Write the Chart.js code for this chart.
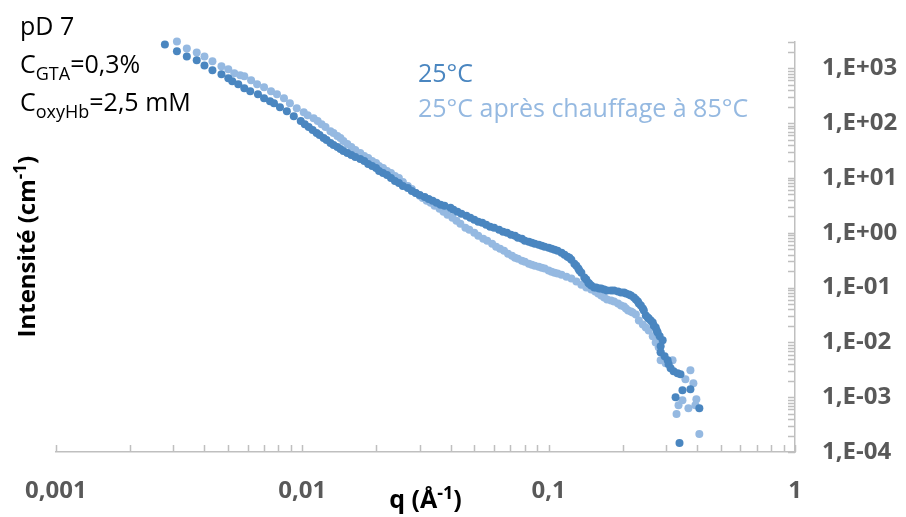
<!DOCTYPE html>
<html>
<head>
<meta charset="utf-8">
<script src="https://cdn.jsdelivr.net/npm/chart.js@4.4.1/dist/chart.umd.min.js"></script>
<style>
  html, body { margin: 0; padding: 0; background: #fff; }
  #wrap { position: relative; width: 906px; height: 517px; }
</style>
</head>
<body>
<div id="wrap"><canvas id="saxs"></canvas></div>
<script>
// ===== data =====
const seriesNames = ['25°C', '25°C après chauffage à 85°C'];

// 25°C  (q in 1/Å, intensity in 1/cm)
const qDark = [0.00277, 0.00310, 0.00340, 0.00373, 0.00401, 0.00432, 0.00470, 0.00501, 0.00520, 0.00550,
  0.00582, 0.00615, 0.00661, 0.00700, 0.00740, 0.00768, 0.00812, 0.00866, 0.00924, 0.00986,
  0.01062, 0.01144, 0.01221, 0.01302, 0.01389, 0.01469, 0.01582, 0.01720, 0.01852, 0.01994,
  0.02128, 0.02292, 0.02468, 0.02683, 0.02889, 0.03140, 0.03382, 0.03643, 0.03996, 0.04264,
  0.04635, 0.04992, 0.05377, 0.05790, 0.06293, 0.06778, 0.07299, 0.07788, 0.08309, 0.08785,
  0.09374, 0.1000, 0.1057, 0.1128, 0.1192, 0.1237, 0.1272, 0.1320, 0.1358, 0.1396,
  0.1449, 0.1489, 0.1531, 0.1604, 0.1680, 0.1793, 0.1913, 0.2022, 0.2118, 0.2219,
  0.2303, 0.2368, 0.2435, 0.2480, 0.2549, 0.2646, 0.2720, 0.2771, 0.2823, 0.2903,
  0.2849, 0.2849, 0.2957, 0.3041, 0.3069, 0.3127, 0.3215, 0.3336, 0.3429, 0.3493,
  0.3763, 0.3275, 0.4090, 0.3398,
  0.01024, 0.01102, 0.01176, 0.01255, 0.01339, 0.01429, 0.01524, 0.01642, 0.01785, 0.01922,
  0.02050, 0.02208, 0.02378, 0.02561, 0.02784, 0.02998, 0.03259, 0.03510, 0.03780, 0.04108,
  0.04425, 0.04810, 0.05180, 0.05579, 0.06008, 0.06531, 0.07033, 0.07504, 0.08006, 0.08543,
  0.09115, 0.09636, 0.1028, 0.1087, 0.1160, 0.1215, 0.1296, 0.1333, 0.1422, 0.1462,
  0.1560, 0.1634, 0.1727, 0.1843, 0.1967, 0.2060, 0.2158, 0.2260, 0.2324, 0.2412,
  0.2526, 0.2597, 0.2671, 0.2746];
const iDark = [2730, 2040, 1650, 1400, 1130, 920, 778, 658, 580, 512,
  433, 382, 337, 285, 251, 231, 195, 165, 134, 109,
  84.6, 65.8, 53.4, 43.3, 36.6, 31.0, 26.2, 22.2, 18.0, 15.2,
  12.3, 10.0, 8.11, 6.58, 5.34, 4.51, 3.82, 3.23, 2.85, 2.41,
  2.04, 1.72, 1.52, 1.29, 1.13, 1.00, 0.882, 0.778, 0.686, 0.631,
  0.580, 0.534, 0.491, 0.433, 0.366, 0.323, 0.273, 0.222, 0.187, 0.152,
  0.123, 0.109, 0.100, 0.0959, 0.0920, 0.0882, 0.0846, 0.0811, 0.0746, 0.0658,
  0.0557, 0.0471, 0.0382, 0.0310, 0.0273, 0.0231, 0.0187, 0.0152, 0.0129, 0.0109,
  0.00846, 0.00658, 0.00557, 0.00471, 0.00398, 0.00337, 0.00297, 0.00273, 0.00262, 0.00134,
  0.00140, 0.00100, 0.000631, 0.000146,
  95.9, 74.6, 60.5, 49.1, 39.8, 33.7, 28.5, 24.1, 20.4, 16.5,
  13.4, 11.3, 8.82, 7.15, 5.80, 4.91, 4.15, 3.51, 3.10, 2.62,
  2.22, 1.87, 1.58, 1.40, 1.23, 1.04, 0.920, 0.811, 0.715, 0.658,
  0.605, 0.557, 0.512, 0.471, 0.398, 0.351, 0.251, 0.204, 0.140, 0.118,
  0.100, 0.0959, 0.0882, 0.0882, 0.0811, 0.0778, 0.0715, 0.0605, 0.0512, 0.0415,
  0.0285, 0.0251, 0.0204, 0.0165];

// 25°C après chauffage à 85°C
const qLight = [0.00310, 0.00340, 0.00373, 0.00401, 0.00432, 0.00470, 0.00501, 0.00530, 0.00560, 0.00582,
  0.00620, 0.00656, 0.00700, 0.00747, 0.00790, 0.00843, 0.00891, 0.00950, 0.01014, 0.01112,
  0.01198, 0.01302, 0.01389, 0.01469, 0.01582, 0.01720, 0.01852, 0.01994, 0.02128, 0.02292,
  0.02468, 0.02683, 0.02889, 0.03083, 0.03320, 0.03609, 0.03886, 0.04225, 0.04593, 0.04992,
  0.05427, 0.05898, 0.06352, 0.06841, 0.07299, 0.07788, 0.08309, 0.08785, 0.09374, 0.1000,
  0.1057, 0.1128, 0.1237, 0.1358, 0.1489, 0.1589, 0.1680, 0.1793, 0.1913, 0.2022,
  0.2103, 0.2193, 0.2260, 0.2324, 0.2412, 0.2480, 0.2549, 0.2646, 0.2720, 0.2797,
  0.2849, 0.2849, 0.2985, 0.3185, 0.3305, 0.3367, 0.3493, 0.3591, 0.3693, 0.3763,
  0.3869, 0.3941, 0.3978, 0.4090,
  0.01052, 0.01155, 0.01243, 0.01339, 0.01429, 0.01524, 0.01642, 0.01785, 0.01922, 0.02050,
  0.02208, 0.02378, 0.02561, 0.02784, 0.02998, 0.03200, 0.03445, 0.03745, 0.04071, 0.04384,
  0.04766, 0.05180, 0.05631, 0.06121, 0.06592, 0.07099, 0.07504, 0.08006, 0.08543, 0.09115,
  0.09636, 0.1028, 0.1087, 0.1181, 0.1296, 0.1422, 0.1546, 0.1634, 0.1727, 0.1843,
  0.1967, 0.2060, 0.2158];
const iLight = [3100, 2310, 1950, 1650, 1340, 1090, 959, 811, 746, 715,
  605, 512, 451, 382, 337, 285, 231, 187, 158, 123,
  95.9, 71.5, 58.0, 47.1, 36.6, 28.5, 23.1, 18.7, 15.2, 12.3,
  10.0, 7.15, 5.34, 4.33, 3.51, 2.73, 2.12, 1.65, 1.23, 1.00,
  0.778, 0.631, 0.512, 0.415, 0.351, 0.310, 0.273, 0.251, 0.231, 0.204,
  0.187, 0.172, 0.146, 0.113, 0.0920, 0.0778, 0.0658, 0.0580, 0.0512, 0.0451,
  0.0382, 0.0351, 0.0323, 0.0251, 0.0212, 0.0187, 0.0165, 0.0129, 0.0100, 0.00811,
  0.00658, 0.00471, 0.00415, 0.00471, 0.000491, 0.000715, 0.000882, 0.00212, 0.000631, 0.00310,
  0.00180, 0.000715, 0.000920, 0.000212,
  140, 109, 84.6, 65.8, 53.4, 41.5, 32.3, 25.1, 20.4, 16.5,
  13.4, 10.9, 8.46, 6.31, 4.71, 3.82, 3.10, 2.41, 1.87, 1.46,
  1.13, 0.882, 0.715, 0.557, 0.471, 0.382, 0.337, 0.297, 0.262, 0.241,
  0.222, 0.195, 0.180, 0.158, 0.129, 0.100, 0.0846, 0.0715, 0.0605, 0.0557,
  0.0471, 0.0415, 0.0366];

const xTickValues = [0.001, 0.01, 0.1, 1];
const xTickLabels = ['0,001', '0,01', '0,1', '1'];
const yTickValues = [1e-4, 1e-3, 1e-2, 1e-1, 1, 1e1, 1e2, 1e3];
const yTickLabels = ['1,E-04', '1,E-03', '1,E-02', '1,E-01', '1,E+00', '1,E+01', '1,E+02', '1,E+03'];

// ===== styling =====
const darkBlue = '#4a86c0';
const lightBlue = '#95b9e1';
const axisGrey = '#bfbfbf';
const labelGrey = '#595959';
const FONT = '"Open Sans", "Liberation Sans", sans-serif';

const toPoints = (qs, is) => qs.map((q, k) => ({ x: q, y: is[k] }));

function findLabel(values, labels, v) {
  const k = values.findIndex(t => Math.abs(Math.log10(t) - Math.log10(v)) < 1e-6);
  return k < 0 ? '' : labels[k];
}
function isWholeMantissa(v) {
  const m = v / Math.pow(10, Math.floor(Math.log10(v) + 1e-9));
  return Math.abs(m - Math.round(m)) < 1e-6;
}

// draw text made of parts, some of them sub/superscript
function richText(ctx, parts, x, y, size, weight, align) {
  const small = Math.round(size * 0.72);
  const fontOf = p => `${weight} ${p.sub || p.sup ? small : size}px ${FONT}`;
  let w = 0;
  parts.forEach(p => { ctx.font = fontOf(p); w += ctx.measureText(p.t).width; });
  let cx = align === 'center' ? x - w / 2 : x;
  ctx.textAlign = 'left';
  ctx.textBaseline = 'alphabetic';
  parts.forEach(p => {
    ctx.font = fontOf(p);
    const dy = p.sub ? size * 0.26 : (p.sup ? -size * 0.36 : 0);
    ctx.fillText(p.t, cx, y + dy);
    cx += ctx.measureText(p.t).width;
  });
}

const decorations = {
  id: 'decorations',
  afterDraw(chart) {
    const { ctx, chartArea: a, scales: { x, y } } = chart;
    ctx.save();

    // tick marks pointing into the plot
    ctx.strokeStyle = axisGrey;
    ctx.lineWidth = 1.5;
    ctx.beginPath();
    x.ticks.forEach(t => {
      if (!isWholeMantissa(t.value)) return;
      const px = Math.round(x.getPixelForValue(t.value)) + 0.5;
      ctx.moveTo(px, a.bottom);
      ctx.lineTo(px, a.bottom - 7);
    });
    y.ticks.forEach(t => {
      if (!isWholeMantissa(t.value)) return;
      const py = Math.round(y.getPixelForValue(t.value)) + 0.5;
      ctx.moveTo(a.right, py);
      ctx.lineTo(a.right - 7, py);
    });
    ctx.stroke();

    // sample description
    ctx.fillStyle = '#000';
    richText(ctx, [{ t: 'pD 7' }], 20, 35, 25, 'normal', 'left');
    richText(ctx, [{ t: 'C' }, { t: 'GTA', sub: true }, { t: '=0,3%' }], 20, 73, 25, 'normal', 'left');
    richText(ctx, [{ t: 'C' }, { t: 'oxyHb', sub: true }, { t: '=2,5 mM' }], 20, 111, 25, 'normal', 'left');

    // legend text
    const ds = chart.data.datasets;
    ctx.fillStyle = ds[0].backgroundColor;
    richText(ctx, [{ t: ds[0].label }], 418, 82, 25, 'normal', 'left');
    ctx.fillStyle = ds[1].backgroundColor;
    richText(ctx, [{ t: ds[1].label }], 418, 117, 25, 'normal', 'left');

    // axis titles
    ctx.fillStyle = '#000';
    richText(ctx, [{ t: 'q (Å' }, { t: '-1', sup: true }, { t: ')' }], (a.left + a.right) / 2, 508, 25, 'bold', 'center');
    ctx.translate(35, (a.top + a.bottom) / 2);
    ctx.rotate(-Math.PI / 2);
    richText(ctx, [{ t: 'Intensité (cm' }, { t: '-1', sup: true }, { t: ')' }], 0, 0, 24, 'bold', 'center');

    ctx.restore();
  }
};

const chart = new Chart(document.getElementById('saxs'), {
  type: 'scatter',
  data: {
    datasets: [
      {
        label: seriesNames[0],
        data: toPoints(qDark, iDark),
        backgroundColor: darkBlue,
        borderWidth: 0,
        pointRadius: 4,
        clip: false
      },
      {
        label: seriesNames[1],
        data: toPoints(qLight, iLight),
        backgroundColor: lightBlue,
        borderWidth: 0,
        pointRadius: 4,
        clip: false
      }
    ]
  },
  options: {
    responsive: true,
    maintainAspectRatio: false,
    animation: false,
    devicePixelRatio: 1,
    layout: { padding: { left: 50, top: 40, right: 0, bottom: 0 } },
    plugins: { legend: { display: false }, tooltip: { enabled: false } },
    scales: {
      x: {
        type: 'logarithmic',
        position: 'bottom',
        min: 0.001,
        max: 1,
        afterFit: s => { s.height = 65; },
        border: { display: true, color: axisGrey, width: 1.5 },
        grid: { display: true, drawOnChartArea: false, drawTicks: false },
        ticks: {
          autoSkip: false,
          maxRotation: 0,
          padding: 25,
          color: labelGrey,
          font: { family: FONT, size: 24, weight: 'bold' },
          callback: v => findLabel(xTickValues, xTickLabels, v)
        }
      },
      y: {
        type: 'logarithmic',
        position: 'right',
        min: 1e-4,
        max: 3100,
        afterFit: s => { s.width = 111; },
        border: { display: true, color: axisGrey, width: 1.5 },
        grid: { display: true, drawOnChartArea: false, drawTicks: false },
        ticks: {
          autoSkip: false,
          padding: 27,
          color: labelGrey,
          font: { family: FONT, size: 24, weight: 'bold' },
          callback: v => findLabel(yTickValues, yTickLabels, v)
        }
      }
    }
  },
  plugins: [decorations]
});
</script>
</body>
</html>
